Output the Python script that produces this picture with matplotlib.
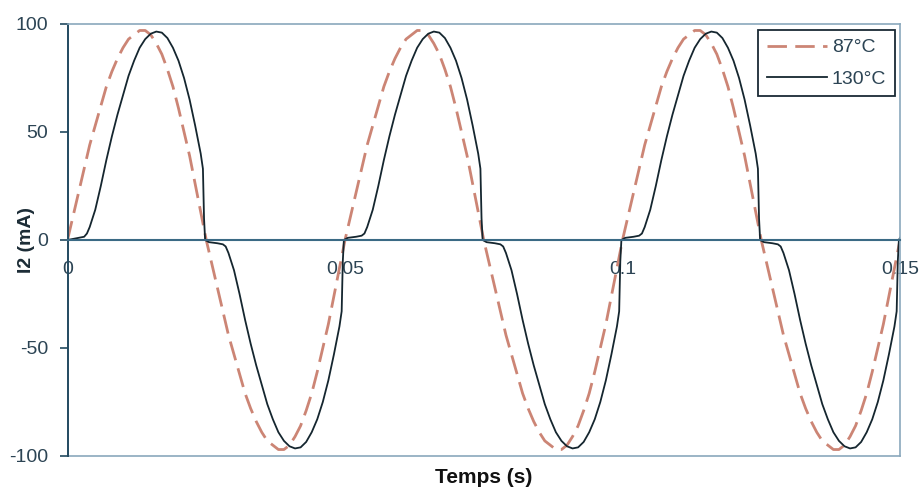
import numpy as np
import matplotlib.pyplot as plt

plt.rcParams['font.family'] = ['Liberation Sans', 'DejaVu Sans']
plt.rcParams['axes.unicode_minus'] = False

# 87°C curve, sampled every 1 ms (values in mA)
t_87_ms = np.arange(0, 151)
i_87 = [
    0, 11, 22, 33, 44, 53, 62, 71, 78, 84, 89, 93, 95, 97, 97, 95, 91, 86, 79, 71, 61, 50, 39, 26, 13,
    0, -11, -22, -33, -44, -53, -62, -71, -78, -84, -89, -93, -95, -97, -97, -95, -91, -86, -79, -71, -61, -50, -39, -26, -13,
    0, 11, 22, 33, 44, 53, 62, 71, 78, 84, 89, 93, 95, 97, 97, 95, 91, 86, 79, 71, 61, 50, 39, 26, 13,
    0, -11, -22, -33, -44, -53, -62, -71, -78, -84, -89, -93, -95, -97, -97, -95, -91, -86, -79, -71, -61, -50, -39, -26, -13,
    0, 11, 22, 33, 44, 53, 62, 71, 78, 84, 89, 93, 95, 97, 97, 95, 91, 86, 79, 71, 61, 50, 39, 26, 13,
    0, -11, -22, -33, -44, -53, -62, -71, -78, -84, -89, -93, -95, -97, -97, -95, -91, -86, -79, -71, -61, -50, -39, -26, -13,
    0,
]

# 130°C curve, read point by point (ms, mA)
t_130_ms = [
    0, 1, 2, 3, 3.5, 4, 5, 6, 7, 8, 9, 10, 11, 12, 13, 14, 15, 16, 17, 18, 19, 20, 21, 22, 23, 24, 24.4, 24.6, 24.8,
    25.5, 27, 28, 28.5, 29, 30, 31, 32, 33, 34, 35, 36, 37, 38, 39, 40, 41, 42, 43, 44, 45, 46, 47, 48, 49, 49.4, 49.6, 49.8,
    50.5, 52, 53, 53.5, 54, 55, 56, 57, 58, 59, 60, 61, 62, 63, 64, 65, 66, 67, 68, 69, 70, 71, 72, 73, 74, 74.4, 74.6, 74.8,
    75.5, 77, 78, 78.5, 79, 80, 81, 82, 83, 84, 85, 86, 87, 88, 89, 90, 91, 92, 93, 94, 95, 96, 97, 98, 99, 99.4, 99.6, 99.8,
    100.5, 102, 103, 103.5, 104, 105, 106, 107, 108, 109, 110, 111, 112, 113, 114, 115, 116, 117, 118, 119, 120, 121, 122, 123, 124, 124.4, 124.6, 124.8,
    125.5, 127, 128, 128.5, 129, 130, 131, 132, 133, 134, 135, 136, 137, 138, 139, 140, 141, 142, 143, 144, 145, 146, 147, 148, 149, 149.4, 149.6, 149.8, 150,
]
i_130 = [
    0, 0.5, 1, 1.5, 3, 6, 14, 25, 37, 48, 58, 67, 76, 83, 89, 93, 95.5, 96.5, 96, 93.5, 89, 83, 75, 65, 53, 40, 33, 10, 0,
    -1, -1.5, -2, -3, -6, -14, -25, -37, -48, -58, -67, -76, -83, -89, -93, -95.5, -96.5, -96, -93.5, -89, -83, -75, -65, -53, -40, -33, -10, 0,
    1, 1.5, 2, 3, 6, 14, 25, 37, 48, 58, 67, 76, 83, 89, 93, 95.5, 96.5, 96, 93.5, 89, 83, 75, 65, 53, 40, 33, 10, 0,
    -1, -1.5, -2, -3, -6, -14, -25, -37, -48, -58, -67, -76, -83, -89, -93, -95.5, -96.5, -96, -93.5, -89, -83, -75, -65, -53, -40, -33, -10, 0,
    1, 1.5, 2, 3, 6, 14, 25, 37, 48, 58, 67, 76, 83, 89, 93, 95.5, 96.5, 96, 93.5, 89, 83, 75, 65, 53, 40, 33, 10, 0,
    -1, -1.5, -2, -3, -6, -14, -25, -37, -48, -58, -67, -76, -83, -89, -93, -95.5, -96.5, -96, -93.5, -89, -83, -75, -65, -53, -40, -33, -10, 0, 1,
]

x_ticks = [0, 0.05, 0.1, 0.15]
x_labels = ['0', '0.05', '0.1', '0.15']
y_ticks = [-100, -50, 0, 50, 100]

axis_col = '#234a60'
border_col = '#8aa8bc'
text_col = '#2c4454'

fig = plt.figure(figsize=(9.22, 4.9), dpi=100)
ax = fig.add_axes([67.5 / 922, 1 - 456 / 490, 832.5 / 922, 432 / 490])

ax.plot(t_87_ms / 1000, i_87, color='#cc8575', lw=2.0, dashes=(7, 3), label='87°C')
ax.plot(np.array(t_130_ms) / 1000, i_130, color='#15262f', lw=1.3, label='130°C')

ax.set_xlim(0, 0.15)
ax.set_ylim(-100, 100)

# axes: y axis on the left, x axis crossing at zero, light border around
ax.spines['left'].set_color(axis_col)
ax.spines['left'].set_linewidth(1.4)
ax.spines['bottom'].set_position(('data', 0))
ax.spines['bottom'].set_color('#3b6a85')
ax.spines['bottom'].set_linewidth(1.5)
for s in ['top', 'right']:
    ax.spines[s].set_color(border_col)
    ax.spines[s].set_linewidth(1.2)
ax.axhline(-100, color=border_col, lw=1.2, clip_on=False)

ax.set_xticks(x_ticks, x_labels)
ax.set_yticks(y_ticks)
ax.tick_params(axis='x', length=0, pad=15, labelsize=14, labelcolor=text_col)
ax.tick_params(axis='y', direction='out', length=6, width=1.2, color=axis_col,
               pad=8, labelsize=14, labelcolor=text_col)

ax.set_xlabel('Temps (s)', fontsize=15, fontweight='bold', color='#111111')
ax.xaxis.set_label_coords(0.5, -0.028)
ax.set_ylabel('I2 (mA)', fontsize=14, fontweight='bold', color='#1c2c36')
ax.yaxis.set_label_coords(-0.039, 0.5)

leg = ax.legend(loc='upper right', bbox_to_anchor=(0.994, 0.986), borderaxespad=0,
                fontsize=14, fancybox=False, framealpha=1, edgecolor='#1a2a35',
                handlelength=3.1, handletextpad=0.25, labelspacing=0.7, borderpad=0.45)
leg.get_frame().set_linewidth(1.3)
for txt in leg.get_texts():
    txt.set_color(text_col)

fig.savefig('out.png', dpi=100)
